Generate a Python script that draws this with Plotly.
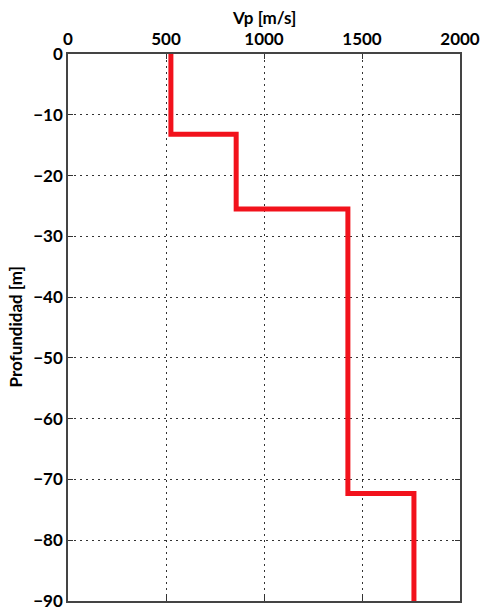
import plotly.graph_objects as go

# Step velocity profile
velocity = [525, 525, 858, 858, 1428, 1428, 1765, 1765]
depth = [0, -13.2, -13.2, -25.5, -25.5, -72.3, -72.3, -90]

x_ticks = [0, 500, 1000, 1500, 2000]
y_ticks = [0, -10, -20, -30, -40, -50, -60, -70, -80, -90]

font_family = "Lato, Open Sans, Arial, sans-serif"

fig = go.Figure()
fig.add_trace(go.Scatter(
    x=velocity, y=depth, mode="lines",
    line=dict(color="#f2121c", width=5),
    showlegend=False,
))

axis_common = dict(
    showline=True, linecolor="#444444", linewidth=1.5, mirror="ticks",
    ticks="inside", ticklen=5, tickcolor="#333333",
    showgrid=True, gridcolor="#333333", griddash="2px,4px", gridwidth=1,
    zeroline=False, automargin=False,
    tickfont=dict(family=font_family, size=17, color="black", weight="bold"),
)

fig.update_layout(
    width=481, height=614,
    margin=dict(l=68, r=21, t=54, b=13),
    paper_bgcolor="white", plot_bgcolor="white",
    xaxis=dict(range=[0, 2000], tickvals=x_ticks, side="top", **axis_common),
    yaxis=dict(range=[-90, 0], tickvals=y_ticks, **axis_common),
    annotations=[
        dict(text="Vp [m/s]", xref="paper", yref="paper", x=0.5, y=1,
             yshift=37, xanchor="center", yanchor="middle", showarrow=False,
             font=dict(family=font_family, size=17, color="black", weight="bold")),
        dict(text="Profundidad [m]", xref="paper", yref="paper", x=0, y=0.5,
             xshift=-53, xanchor="center", yanchor="middle", showarrow=False,
             textangle=-90,
             font=dict(family=font_family, size=17, color="black", weight="bold")),
    ],
)

fig.write_html(
    "out.html",
    config={"displayModeBar": False},
    post_script="document.body.style.margin='0';document.body.style.overflow='hidden';",
)
